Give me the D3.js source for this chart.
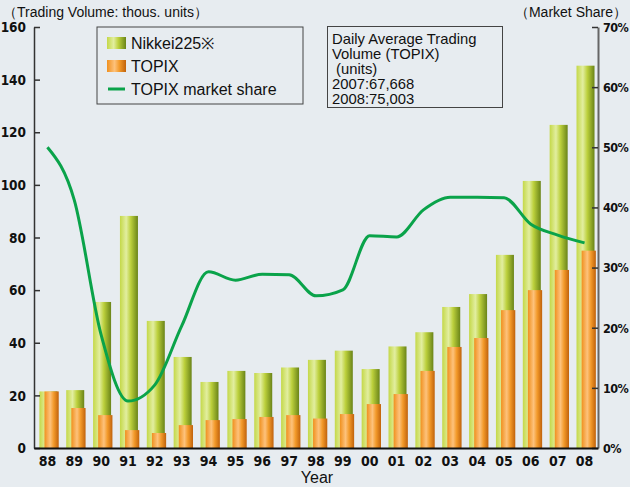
<!DOCTYPE html>
<html>
<head>
<meta charset="utf-8">
<script src="https://cdn.jsdelivr.net/npm/d3@7"></script>
<style>
  body { margin: 0; background: #e7ecf0; }
  svg { display: block; }
  .tick-num { font-family: "DejaVu Sans Condensed", "Liberation Sans", Arial, sans-serif; font-weight: bold; font-size: 14px; fill: #111; }
  .lbl { font-family: "Liberation Sans", Arial, sans-serif; font-size: 14px; fill: #111; }
</style>
</head>
<body>
<div id="chart"></div>
<script>
// Data
var years = ["88", "89", "90", "91", "92", "93", "94", "95", "96", "97", "98",
    "99", "00", "01", "02", "03", "04", "05", "06", "07", "08"];
var nikkei = [21.5, 22, 55.5, 88.2, 48.3, 34.6, 25.1, 29.3, 28.5, 30.6, 33.5,
    37, 30, 38.6, 44, 53.6, 58.5, 73.4, 101.5, 122.8, 145.3];
var topix = [21.5, 15.2, 12.5, 6.8, 5.7, 8.7, 10.6, 11.0, 11.8, 12.5, 11.2,
    12.9, 16.7, 20.5, 29.3, 38.4, 41.8, 52.4, 60, 67.668, 75.003];
var share = [50, 41.2, 18.8, 7.8, 10.5, 20.3, 29.3, 27.9, 28.9, 28.8, 25.3,
    26.3, 35.3, 35.1, 39.6, 41.7, 41.7, 41.6, 37.2, 35.4, 34.1];
var leftTicks = [0, 20, 40, 60, 80, 100, 120, 140, 160];
var rightTicks = [0, 10, 20, 30, 40, 50, 60, 70];
var noteLines = ["Daily Average Trading", "Volume (TOPIX)", " (units)", "2007:67,668", "2008:75,003"];

function init() {
    var w = 630;
    var h = 487;
    var left = 34, right = 598, top = 27, bottom = 448;

    var svg = d3.select("#chart")
        .append("svg")
        .attr("width", w)
        .attr("height", h);

    var defs = svg.append("defs");
    function grad(id, stops) {
        var g = defs.append("linearGradient").attr("id", id)
            .attr("x1", "0%").attr("x2", "100%").attr("y1", "0%").attr("y2", "0%");
        stops.forEach(function (s) {
            g.append("stop").attr("offset", s[0]).attr("stop-color", s[1]);
        });
    }
    grad("gGreen", [["0%", "#c4d848"], ["35%", "#e2eea0"], ["60%", "#bcd03c"], ["100%", "#6a8418"]]);
    grad("gOrange", [["0%", "#f0901e"], ["40%", "#fdc27c"], ["65%", "#f39a2a"], ["100%", "#c0620c"]]);

    var x = d3.scaleBand().domain(years).range([left, right]).padding(0);
    var y = d3.scaleLinear().domain([0, 160]).range([bottom, top]);
    var y2 = d3.scaleLinear().domain([0, 70]).range([bottom, top]);
    var bw = x.bandwidth();

    // Nikkei bars (behind)
    svg.selectAll(".nk")
        .data(nikkei)
        .enter()
        .append("rect")
        .attr("x", function (d, i) { return x(years[i]) + bw * 0.2; })
        .attr("width", bw * 0.67)
        .attr("y", function (d) { return y(d); })
        .attr("height", function (d) { return bottom - y(d); })
        .attr("fill", "url(#gGreen)");

    // TOPIX bars
    svg.selectAll(".tp")
        .data(topix)
        .enter()
        .append("rect")
        .attr("x", function (d, i) { return x(years[i]) + bw * 0.39; })
        .attr("width", bw * 0.53)
        .attr("y", function (d) { return y(d); })
        .attr("height", function (d) { return bottom - y(d); })
        .attr("fill", "url(#gOrange)");

    // Share line
    var line = d3.line()
        .x(function (d, i) { return x(years[i]) + bw / 2; })
        .y(function (d) { return y2(d); })
        .curve(d3.curveMonotoneX);
    svg.append("path")
        .datum(share)
        .attr("d", line)
        .attr("fill", "none")
        .attr("stroke", "#0aa34a")
        .attr("stroke-width", 3)
        .attr("stroke-linejoin", "round");

    // Left axis
    var yAxis = d3.axisLeft(y).tickValues(leftTicks).tickSizeInner(-6).tickSizeOuter(0).tickPadding(8);
    var gy = svg.append("g").attr("transform", "translate(" + left + ",0)").call(yAxis);
    gy.select(".domain").attr("stroke", "#333").attr("stroke-width", 1.5);
    gy.selectAll(".tick line").attr("stroke", "#333").attr("stroke-width", 1.5);
    gy.selectAll(".tick text").attr("class", "tick-num").style("font-size", "13.5px").attr("dy", "0.35em");

    // Right axis
    var yAxis2 = d3.axisRight(y2).tickValues(rightTicks).tickSizeInner(-6).tickSizeOuter(0).tickPadding(5)
        .tickFormat(function (d) { return d + "%"; });
    var gy2 = svg.append("g").attr("transform", "translate(" + right + ",0)").call(yAxis2);
    gy2.select(".domain").attr("stroke", "#666").attr("stroke-width", 2);
    gy2.selectAll(".tick line").attr("stroke", "#333").attr("stroke-width", 1.5);
    gy2.selectAll(".tick text").attr("class", "tick-num")
        .style("font-size", "12.5px").style("letter-spacing", "-0.6px").attr("dy", "0.35em");

    // X axis
    var xAxis = d3.axisBottom(x).tickSize(0).tickPadding(6);
    var gx = svg.append("g").attr("transform", "translate(0," + bottom + ")").call(xAxis);
    gx.select(".domain").attr("stroke", "#111").attr("stroke-width", 2);
    gx.selectAll(".tick text").attr("class", "tick-num").attr("dy", "0.85em");

    // Titles
    svg.append("text").attr("class", "lbl").attr("x", 3).attr("y", 17)
        .text("（Trading Volume: thous. units）");
    svg.append("text").attr("class", "lbl").attr("x", 627).attr("y", 17).attr("text-anchor", "end")
        .text("（Market Share）");
    svg.append("text").attr("class", "lbl").attr("x", 317).attr("y", 483).attr("text-anchor", "middle")
        .style("font-size", "16px").text("Year");

    // Legend
    var lg = svg.append("g");
    lg.append("rect").attr("x", 97).attr("y", 27).attr("width", 206).attr("height", 77)
        .attr("fill", "none").attr("stroke", "#444").attr("stroke-width", 1);
    lg.append("rect").attr("x", 107).attr("y", 37).attr("width", 19).attr("height", 12).attr("fill", "url(#gGreen)");
    lg.append("rect").attr("x", 107).attr("y", 60).attr("width", 19).attr("height", 12).attr("fill", "url(#gOrange)");
    lg.append("line").attr("x1", 108).attr("x2", 125).attr("y1", 89).attr("y2", 89)
        .attr("stroke", "#0aa34a").attr("stroke-width", 3);
    var legendText = ["Nikkei225※", "TOPIX", "TOPIX market share"];
    lg.selectAll(".lt")
        .data(legendText)
        .enter()
        .append("text")
        .attr("class", "lbl")
        .style("font-size", "16px")
        .attr("x", 131)
        .attr("y", function (d, i) { return 49 + i * 23; })
        .text(function (d) { return d; });

    // Note box
    var nb = svg.append("g");
    nb.append("rect").attr("x", 327.5).attr("y", 26.5).attr("width", 175).attr("height", 81)
        .attr("fill", "none").attr("stroke", "#444").attr("stroke-width", 1);
    nb.selectAll(".nt")
        .data(noteLines)
        .enter()
        .append("text")
        .attr("class", "lbl")
        .style("font-size", "14.8px")
        .style("white-space", "pre")
        .attr("x", 332)
        .attr("y", function (d, i) { return 44 + i * 15; })
        .text(function (d) { return d; });
}

window.onload = init;
</script>
</body>
</html>
